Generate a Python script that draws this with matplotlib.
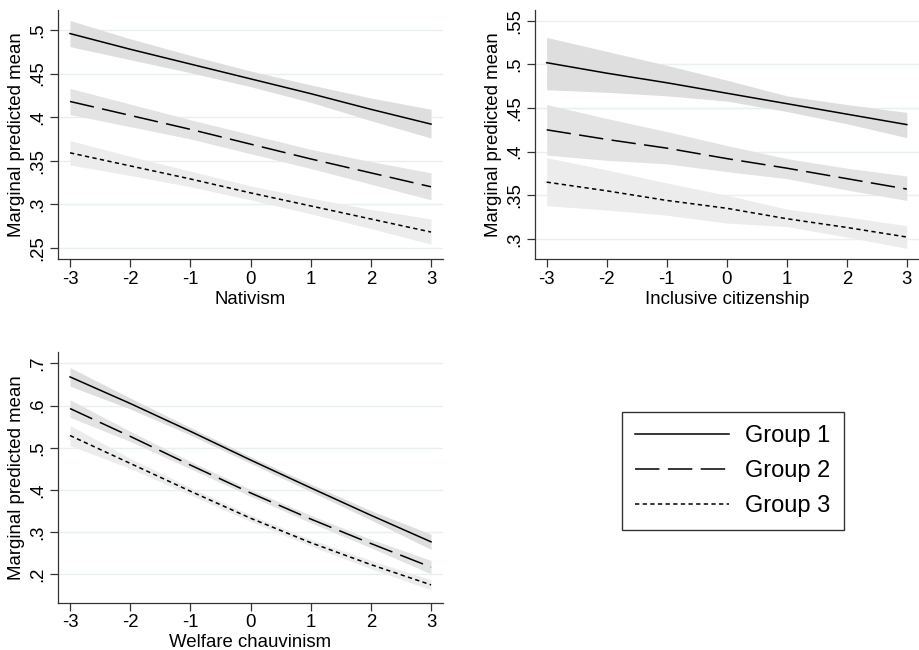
import matplotlib.pyplot as plt

plt.rcParams['font.family'] = ['Liberation Sans', 'DejaVu Sans']

x = [-3, -2, -1, 0, 1, 2, 3]
grupos = ['Group 1', 'Group 2', 'Group 3']

# Nativism
nat_media = [
    [.496, .478, .461, .444, .427, .409, .392],
    [.418, .402, .386, .369, .352, .336, .320],
    [.359, .344, .329, .313, .298, .283, .268],
]
nat_bajo = [
    [.481, .466, .451, .435, .417, .396, .376],
    [.403, .389, .375, .358, .341, .323, .305],
    [.345, .333, .320, .305, .289, .272, .254],
]
nat_alto = [
    [.511, .490, .471, .453, .437, .422, .409],
    [.433, .415, .397, .380, .363, .349, .336],
    [.373, .355, .338, .321, .307, .294, .283],
]
nat_yticks = [.25, .3, .35, .4, .45, .5]

# Inclusive citizenship
inc_media = [
    [.502, .490, .479, .467, .455, .443, .431],
    [.425, .414, .404, .392, .381, .369, .357],
    [.365, .355, .344, .335, .323, .313, .302],
]
inc_bajo = [
    [.471, .468, .464, .458, .446, .432, .416],
    [.396, .390, .386, .377, .369, .356, .344],
    [.338, .333, .327, .318, .314, .302, .289],
]
inc_alto = [
    [.531, .515, .499, .482, .464, .454, .445],
    [.454, .438, .423, .407, .392, .381, .372],
    [.393, .379, .364, .350, .334, .325, .315],
]
inc_yticks = [.3, .35, .4, .45, .5, .55]

# Welfare chauvinism
wel_media = [
    [.668, .605, .539, .471, .405, .340, .277],
    [.593, .527, .459, .393, .331, .273, .217],
    [.529, .463, .397, .333, .275, .223, .175],
]
wel_bajo = [
    [.646, .592, .530, .463, .396, .329, .259],
    [.572, .515, .450, .385, .322, .263, .201],
    [.505, .451, .388, .325, .267, .213, .163],
]
wel_alto = [
    [.690, .618, .548, .479, .414, .351, .295],
    [.614, .539, .468, .401, .340, .283, .233],
    [.553, .475, .406, .341, .283, .233, .187],
]
wel_yticks = [.2, .3, .4, .5, .6, .7]

estilos = ['-', (0, (16, 5.5)), (0, (2.8, 2.2))]
bandas = ['#dedede', '#e3e3e3', '#ececec']

fig = plt.figure(figsize=(9.19, 6.5), dpi=100)


def panel(pos, media, bajo, alto, yticks, ylim, xlabel):
    ax = fig.add_axes(pos)
    for yt in yticks:
        ax.axhline(yt, color='#e8f0f2', lw=1, zorder=0)
    lineas = []
    for i in range(3):
        ax.fill_between(x, bajo[i], alto[i], color=bandas[i], lw=0, zorder=1)
    for i in range(3):
        l, = ax.plot(x, media[i], color='black', lw=1.1, linestyle=estilos[i],
                     zorder=2, label=grupos[i])
        lineas.append(l)
    ax.set_xlim(-3.2, 3.2)
    ax.set_ylim(*ylim)
    ax.set_xticks(x)
    ax.set_xticklabels([str(v) for v in x])
    ax.set_yticks(yticks)
    ax.set_yticklabels([f'{v:g}'.lstrip('0') for v in yticks], rotation=90, va='center')
    ax.tick_params(labelsize=13.4, length=5.5, width=0.9, color='#333333', pad=3)
    for s in ['top', 'right']:
        ax.spines[s].set_visible(False)
    for s in ['left', 'bottom']:
        ax.spines[s].set_color('#333333')
        ax.spines[s].set_linewidth(0.9)
    ax.set_xlabel(xlabel, fontsize=13.4, labelpad=2)
    ax.set_ylabel('Marginal predicted mean', fontsize=13.4, labelpad=3)
    return lineas


lineas = panel([0.0631, 0.6015, 0.419, 0.383], nat_media, nat_bajo, nat_alto,
               nat_yticks, (0.237, 0.523), 'Nativism')
panel([0.5818, 0.601, 0.418, 0.383], inc_media, inc_bajo, inc_alto,
      inc_yticks, (0.2764, 0.562), 'Inclusive citizenship')
panel([0.0631, 0.0728, 0.419, 0.385], wel_media, wel_bajo, wel_alto,
      wel_yticks, (0.1327, 0.726), 'Welfare chauvinism')

leg = fig.legend(handles=lineas, loc='upper left', bbox_to_anchor=(0.6768, 0.366),
                 fontsize=17, frameon=True, fancybox=False, handlelength=4,
                 handletextpad=0.68, labelspacing=0.55, borderpad=0.55,
                 borderaxespad=0)
leg.get_frame().set_edgecolor('black')
leg.get_frame().set_linewidth(1)

fig.savefig('out.png', dpi=100)
